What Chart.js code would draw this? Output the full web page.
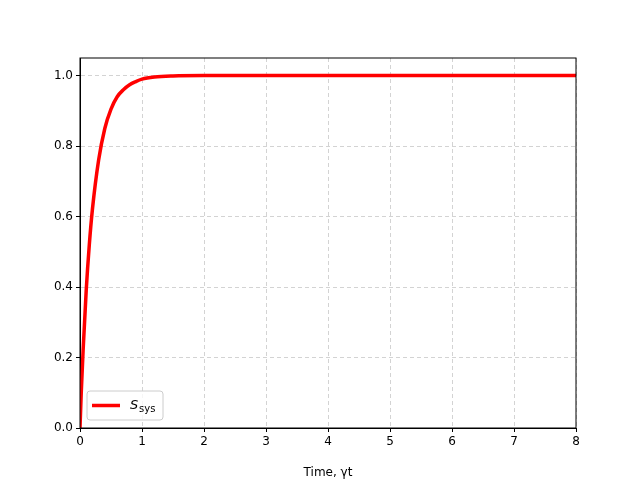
<!DOCTYPE html>
<html><head><script src="https://cdn.jsdelivr.net/npm/chart.js@4"></script>
<style>body{margin:0;background:#fff}#w{width:640px;height:480px}</style></head>
<body><div id="w"><canvas id="c"></canvas></div>
<script>
const times=[0,0.02,0.05,0.1,0.15,0.2,0.3,0.4,0.5,0.6,0.7,0.8,0.9,1.0,1.2,1.5,2,3,4,5,6,7,8];
const ssys=[0,0.1,0.22,0.39,0.52,0.62,0.76,0.85,0.905,0.94,0.96,0.974,0.983,0.99,0.996,0.999,1,1,1,1,1,1,1];
const xTicks=[0,1,2,3,4,5,6,7,8];
const yTicks=[0,0.2,0.4,0.6,0.8,1.0];
const F='"DejaVu Sans"';
const legendPlugin={id:'lg',afterDraw(ch){const c=ch.ctx,a=ch.chartArea;const x=a.left+7,y=a.bottom-37,w=76,h=29;
c.save();c.fillStyle='rgba(255,255,255,0.8)';c.strokeStyle='#ccc';c.lineWidth=1;c.beginPath();c.roundRect(x,y,w,h,3);c.fill();c.stroke();
c.strokeStyle='red';c.lineWidth=3.5;c.beginPath();c.moveTo(x+5,y+h/2);c.lineTo(x+33,y+h/2);c.stroke();
c.fillStyle='#000';c.textBaseline='middle';c.font='italic 13px '+F;c.fillText('S',x+43,y+h/2);
c.font='10px '+F;c.fillText('sys',x+52,y+h/2+4);c.restore();}};
new Chart(document.getElementById('c'),{type:'line',
data:{datasets:[{data:times.map((t,i)=>({x:t,y:ssys[i]})),borderColor:'red',borderWidth:3.5,pointRadius:0,cubicInterpolationMode:'monotone',fill:false}]},
options:{responsive:true,maintainAspectRatio:false,animation:false,
layout:{padding:{top:58,right:64,left:0,bottom:0}},
plugins:{legend:{display:false},tooltip:{enabled:false}},
scales:{
x:{type:'linear',min:0,max:8,afterFit:s=>{s.height=52},afterBuildTicks:s=>{s.ticks=xTicks.map(v=>({value:v}))},
ticks:{color:'#000',font:{family:F,size:12},maxRotation:0},
title:{display:true,text:'Time, γt',color:'#000',font:{family:F,size:12},padding:{top:0,bottom:0}},
grid:{color:'#d3d3d3',tickColor:'#000',tickLength:4,drawTicks:true},border:{color:'#000',dash:[4,3],display:true}},
y:{min:0,max:1.05,afterFit:s=>{s.width=80},afterBuildTicks:s=>{s.ticks=yTicks.map(v=>({value:v}))},
ticks:{color:'#000',font:{family:F,size:12},callback:v=>v.toFixed(1)},
grid:{color:'#d3d3d3',tickColor:'#000',tickLength:4},border:{color:'#000',dash:[4,3]}}
}},plugins:[legendPlugin,{id:'frame',afterDraw(ch){const c=ch.ctx,a=ch.chartArea;c.save();c.strokeStyle='#000';c.lineWidth=1;c.strokeRect(a.left,a.top,a.right-a.left,a.bottom-a.top);c.restore();}}]});
</script></body></html>
